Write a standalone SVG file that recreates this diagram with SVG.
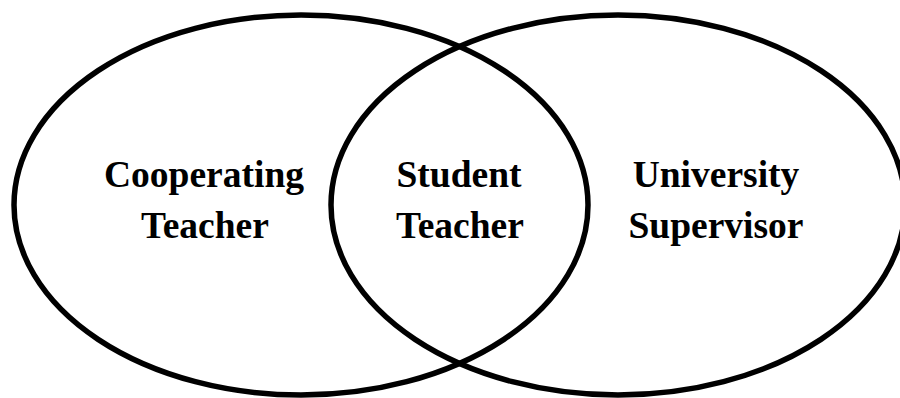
<svg xmlns="http://www.w3.org/2000/svg" width="900" height="398" viewBox="0 0 900 398">
  <style>
    .ring { fill: none; stroke: #000; stroke-width: 5.5; }
    .label { font-family: "Liberation Serif", "Times New Roman", serif; font-weight: bold; font-size: 37.5px; fill: #000; text-anchor: middle; }
  </style>
  <rect width="900" height="398" fill="#fff"/>
  <g id="connectors"/>
  <g id="cooperating-teacher">
    <ellipse class="ring" cx="301" cy="205" rx="287" ry="190"/>
    <text class="label" x="204" y="187">Cooperating</text>
    <text class="label" x="205" y="238">Teacher</text>
  </g>
  <g id="university-supervisor">
    <ellipse class="ring" cx="618" cy="205" rx="287" ry="190"/>
    <text class="label" x="716" y="187">University</text>
    <text class="label" x="716" y="238">Supervisor</text>
  </g>
  <g id="student-teacher">
    <text class="label" x="459" y="187">Student</text>
    <text class="label" x="460" y="238">Teacher</text>
  </g>
</svg>
